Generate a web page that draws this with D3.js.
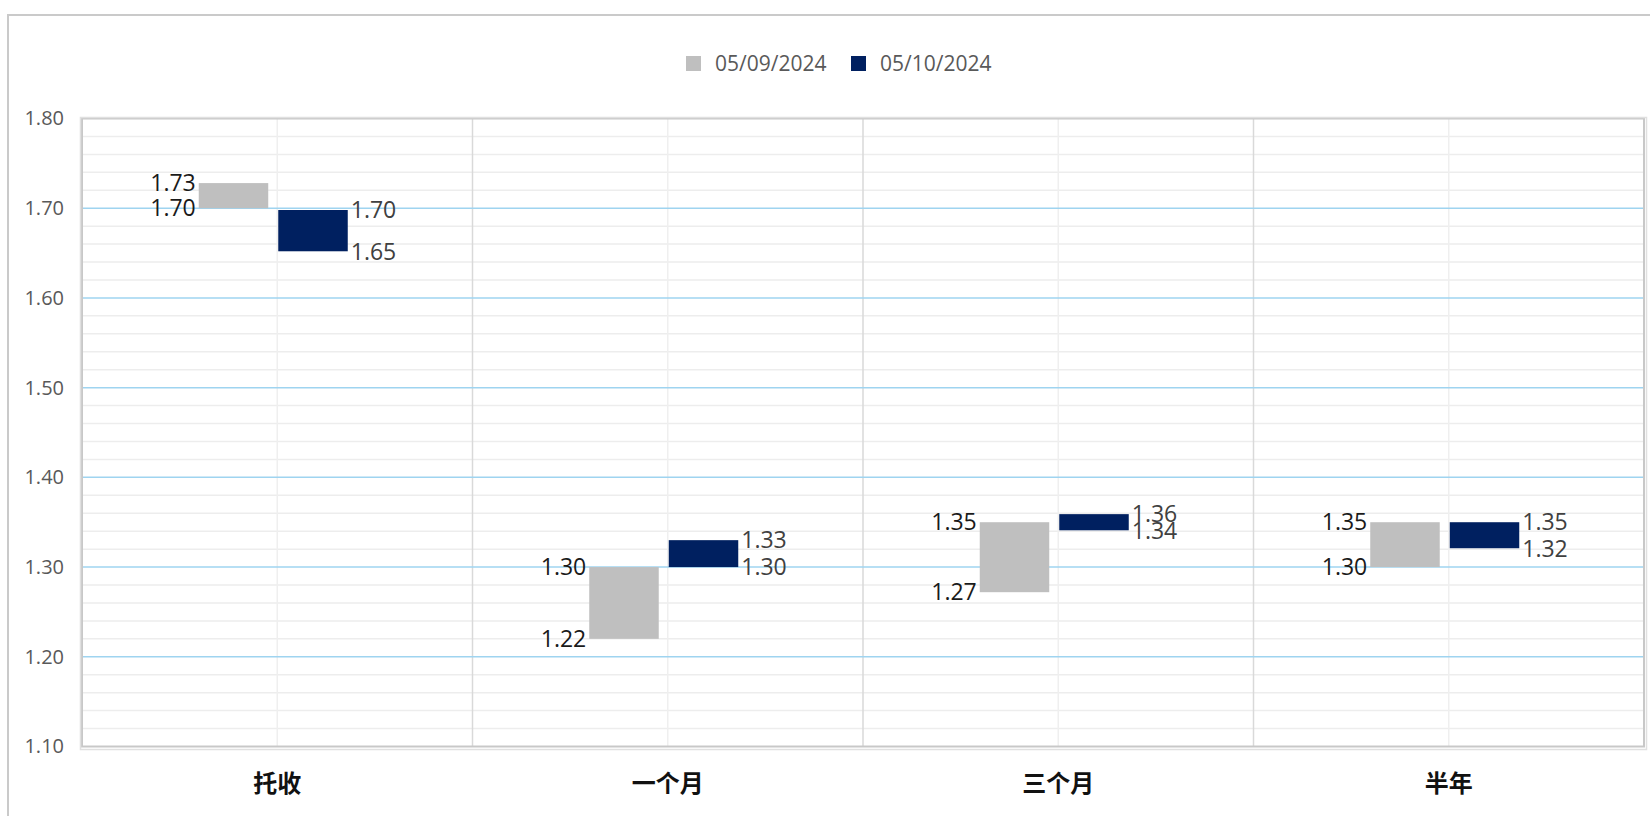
<!DOCTYPE html>
<html>
<head>
<meta charset="utf-8">
<script src="https://cdn.jsdelivr.net/npm/d3@7"></script>
<style>
  html, body { margin: 0; padding: 0; background: #fff; }
  svg { display: block; }
</style>
</head>
<body>
<svg id="chart" width="1650" height="816"></svg>
<script>
// ---- data ----
const categories = ["托收", "一个月", "三个月", "半年"];
const seriesNames = ["05/09/2024", "05/10/2024"];
const seriesColors = ["#bfbfbf", "#002060"];
const low0509 = [1.700, 1.220, 1.272, 1.300];
const high0509 = [1.728, 1.300, 1.350, 1.350];
const low0510 = [1.652, 1.300, 1.341, 1.321];
const high0510 = [1.698, 1.330, 1.359, 1.350];
const yTicks = [1.10, 1.20, 1.30, 1.40, 1.50, 1.60, 1.70, 1.80];

const lows = [low0509, low0510];
const highs = [high0509, high0510];

const svg = d3.select("#chart");
const W = 1650, H = 816;
const plot = { left: 82, right: 1644, top: 118.5, bottom: 746.5 };
const numFont = "'Open Sans', 'Noto Sans', sans-serif";

// outer chart border
svg.append("rect").attr("x", 8).attr("y", 15).attr("width", W + 20).attr("height", H + 20)
  .attr("fill", "#fff").attr("stroke", "#cacaca").attr("stroke-width", 2);

const x = d3.scaleBand().domain(categories).range([plot.left, plot.right]).padding(0);
const y = d3.scaleLinear().domain([1.10, 1.80]).range([plot.bottom, plot.top]);
const sub = d3.scaleBand().domain(seriesNames).range([-78.5, 70.5]).paddingInner(0.126).paddingOuter(0);

const g = svg.append("g");

// minor horizontal gridlines
const minor = d3.range(0, 36).map(i => 1.10 + i * 0.02).filter(v => Math.round(v * 100) % 10 !== 0);
g.selectAll(".minor").data(minor).enter().append("line")
  .attr("x1", plot.left).attr("x2", plot.right)
  .attr("y1", d => y(d)).attr("y2", d => y(d))
  .attr("stroke", "#ededed").attr("stroke-width", 1.5);

// minor vertical lines at category centres
g.selectAll(".vminor").data(categories).enter().append("line")
  .attr("x1", d => x(d) + x.bandwidth() / 2).attr("x2", d => x(d) + x.bandwidth() / 2)
  .attr("y1", plot.top).attr("y2", plot.bottom)
  .attr("stroke", "#efefef").attr("stroke-width", 1.5);

// category separators
g.selectAll(".vsep").data(categories.slice(1)).enter().append("line")
  .attr("x1", d => x(d)).attr("x2", d => x(d))
  .attr("y1", plot.top).attr("y2", plot.bottom)
  .attr("stroke", "#d9d9d9").attr("stroke-width", 1.5);

// major horizontal gridlines
g.selectAll(".major").data(yTicks.slice(1, -1)).enter().append("line")
  .attr("x1", plot.left).attr("x2", plot.right)
  .attr("y1", d => y(d)).attr("y2", d => y(d))
  .attr("stroke", "#9fd4f0").attr("stroke-width", 1.5);

// plot border (double gray look)
g.append("rect").attr("x", plot.left).attr("y", plot.top)
  .attr("width", plot.right - plot.left).attr("height", plot.bottom - plot.top)
  .attr("fill", "none").attr("stroke", "#c8c8c8").attr("stroke-width", 2);
g.append("rect").attr("x", plot.left - 1.5).attr("y", plot.top - 1)
  .attr("width", plot.right - plot.left + 4).attr("height", plot.bottom - plot.top + 4)
  .attr("fill", "none").attr("stroke", "#e0e0e0").attr("stroke-width", 1.5);

// y axis
const yAxis = d3.axisLeft(y).tickValues(yTicks).tickFormat(d3.format(".2f")).tickSize(0).tickPadding(18);
const ya = svg.append("g").attr("transform", `translate(${plot.left},0)`).call(yAxis);
ya.select(".domain").remove();
ya.selectAll("text").attr("font-family", numFont).attr("font-size", 20).attr("fill", "#595959");

// x axis labels
const xAxis = d3.axisBottom(x).tickSize(0).tickPadding(28);
const xa = svg.append("g").attr("transform", `translate(0,${plot.bottom})`).call(xAxis);
xa.select(".domain").remove();
xa.selectAll("text").attr("font-family", "'Noto Sans CJK SC', sans-serif")
  .attr("font-size", 24).attr("font-weight", "bold").attr("fill", "#111");

// bars
const fmt = d3.format(".2f");
seriesNames.forEach((s, si) => {
  const data = categories.map((c, i) => ({ c, lo: lows[si][i], hi: highs[si][i] }));
  const bx = d => x(d.c) + x.bandwidth() / 2 + sub(s);
  svg.selectAll(".bar" + si).data(data).enter().append("rect")
    .attr("x", bx).attr("width", sub.bandwidth())
    .attr("y", d => y(d.hi)).attr("height", d => y(d.lo) - y(d.hi))
    .attr("fill", seriesColors[si]);
  const lab = [];
  data.forEach(d => { lab.push({ d, v: d.hi }); lab.push({ d, v: d.lo }); });
  svg.selectAll(".lab" + si).data(lab).enter().append("text")
    .attr("x", l => si === 0 ? bx(l.d) - 3 : bx(l.d) + sub.bandwidth() + 3)
    .attr("y", l => y(l.v))
    .attr("dy", "0.36em")
    .attr("text-anchor", si === 0 ? "end" : "start")
    .attr("font-family", numFont).attr("font-size", 23)
    .attr("fill", si === 0 ? "#1a1a1a" : "#404040")
    .text(l => fmt(l.v));
});

// legend
const legendX = [686, 851];
const leg = svg.append("g");
seriesNames.forEach((s, i) => {
  leg.append("rect").attr("x", legendX[i]).attr("y", 56).attr("width", 15).attr("height", 15)
    .attr("fill", seriesColors[i]);
  leg.append("text").attr("x", legendX[i] + 29).attr("y", 63.5).attr("dy", "0.36em")
    .attr("font-family", numFont).attr("font-size", 21).attr("fill", "#595959").text(s);
});
</script>
</body>
</html>
